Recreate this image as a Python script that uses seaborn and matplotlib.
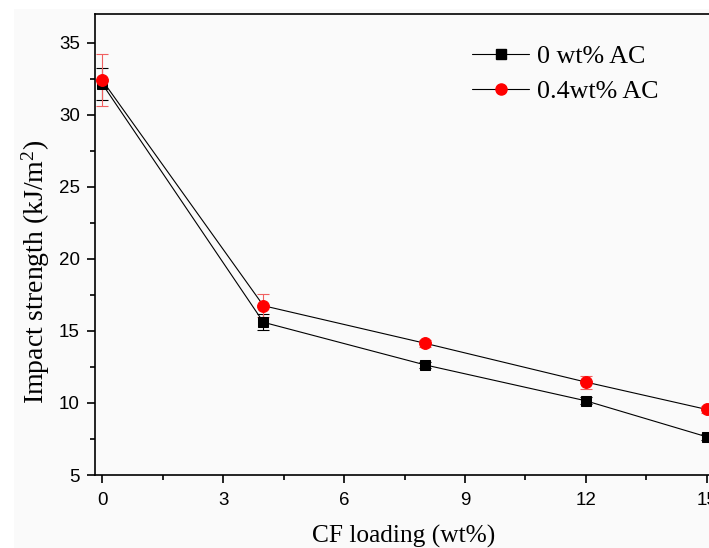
import numpy as np
import pandas as pd
import matplotlib
matplotlib.use("Agg")
import matplotlib.pyplot as plt
import seaborn as sns
from matplotlib.lines import Line2D
from matplotlib.patches import Rectangle

# ---- data ----
cf_loading = [0, 4, 8, 12, 15]
series_names = ["0 wt% AC", "0.4wt% AC"]
impact_0ac = [32.15, 15.6, 12.65, 10.15, 7.65]
err_0ac = [1.1, 0.55, 0.2, 0.25, 0.2]
impact_04ac = [32.4, 16.75, 14.15, 11.45, 9.55]
err_04ac = [1.8, 0.8, 0.25, 0.45, 0.25]
x_ticks = [0, 3, 6, 9, 12, 15]
y_ticks = [5, 10, 15, 20, 25, 30, 35]

df = pd.DataFrame({
    "CF": cf_loading * 2,
    "Impact": impact_0ac + impact_04ac,
    "Series": [series_names[0]] * len(cf_loading) + [series_names[1]] * len(cf_loading),
})

sns.set_theme(style="ticks")
plt.rcParams["mathtext.fontset"] = "custom"
plt.rcParams["mathtext.rm"] = "Liberation Serif"
plt.rcParams["mathtext.it"] = "Liberation Serif:italic"

bg = "#fafafa"
fig = plt.figure(figsize=(7.09, 5.48), dpi=100, facecolor=bg)
# white margin strips as in the scanned reference
fig.add_artist(Rectangle((0, 0), 14 / 709, 1, transform=fig.transFigure, facecolor="white", edgecolor="none", zorder=-1))
fig.add_artist(Rectangle((0, 1 - 9 / 548), 1, 9 / 548, transform=fig.transFigure, facecolor="white", edgecolor="none", zorder=-1))

left = 95 / 709
bottom = 73 / 548
height = (475 - 14) / 548
xmin, xmax = -0.18, 15.6
width = (xmax - xmin) * 40.3 / 709
ax = fig.add_axes([left, bottom, width, height])
ax.set_facecolor(bg)

# error bars (behind markers)
ax.errorbar(cf_loading, impact_0ac, yerr=err_0ac, fmt="none", ecolor="black",
            elinewidth=0.8, capsize=4.5, capthick=0.8, zorder=2)
ax.errorbar(cf_loading, impact_04ac, yerr=err_04ac, fmt="none", ecolor="#f06060",
            elinewidth=0.8, capsize=4.5, capthick=0.8, zorder=2)

sns.lineplot(data=df, x="CF", y="Impact", hue="Series", style="Series",
             palette={series_names[0]: "black", series_names[1]: "black"},
             markers={series_names[0]: "s", series_names[1]: "o"},
             dashes=False, linewidth=0.8, ax=ax, legend=False, zorder=3)
for ln in ax.get_lines():
    if ln.get_marker() == "s":
        ln.set_markerfacecolor("black"); ln.set_markeredgecolor("black")
        ln.set_markersize(7.0); ln.set_zorder(4)
    elif ln.get_marker() == "o":
        ln.set_markerfacecolor("red"); ln.set_markeredgecolor("red")
        ln.set_markersize(8.5); ln.set_zorder(4)

ax.set_xlim(xmin, xmax)
ax.set_ylim(5, 37)
ax.set_xticks(x_ticks)
ax.set_yticks(y_ticks)
ax.set_xticks(np.arange(1.5, 15, 3), minor=True)
ax.set_yticks(np.arange(7.5, 37, 5), minor=True)
ax.tick_params(axis="both", which="major", direction="out", length=6, width=1.2,
               labelsize=13.5, color="black", labelcolor="black", pad=5)
ax.tick_params(axis="x", which="major", pad=6)
ax.tick_params(axis="both", which="minor", direction="out", length=3.5, width=1.2, color="black")
for lab in ax.get_xticklabels() + ax.get_yticklabels():
    lab.set_fontfamily("Liberation Sans")
for sp in ax.spines.values():
    sp.set_visible(True)
    sp.set_linewidth(1.2)
    sp.set_color("black")

ax.set_xlabel("CF loading (wt%)", fontfamily="Liberation Serif", fontsize=18.3, color="black", labelpad=12)
ax.xaxis.label.set_x(0.485)
ax.set_ylabel("Impact strength (kJ/m$^2$)", fontfamily="Liberation Serif", fontsize=20, color="black", labelpad=5)
ax.yaxis.label.set_y(0.44)

handles = [
    Line2D([], [], color="black", lw=0.8, marker="s", markersize=7, markerfacecolor="black", markeredgecolor="black"),
    Line2D([], [], color="black", lw=0.8, marker="o", markersize=8, markerfacecolor="red", markeredgecolor="red"),
]
leg = ax.legend(handles, series_names, loc="upper left", bbox_to_anchor=(472 / 709, 1 - 45 / 548),
                bbox_transform=fig.transFigure, frameon=False, borderaxespad=0, borderpad=0,
                handlelength=2.2, handletextpad=0.3, labelspacing=0.45,
                prop={"family": "Liberation Serif", "size": 18.7})
for t in leg.get_texts():
    t.set_color("black")

fig.savefig("out.png", dpi=100, facecolor=fig.get_facecolor())
